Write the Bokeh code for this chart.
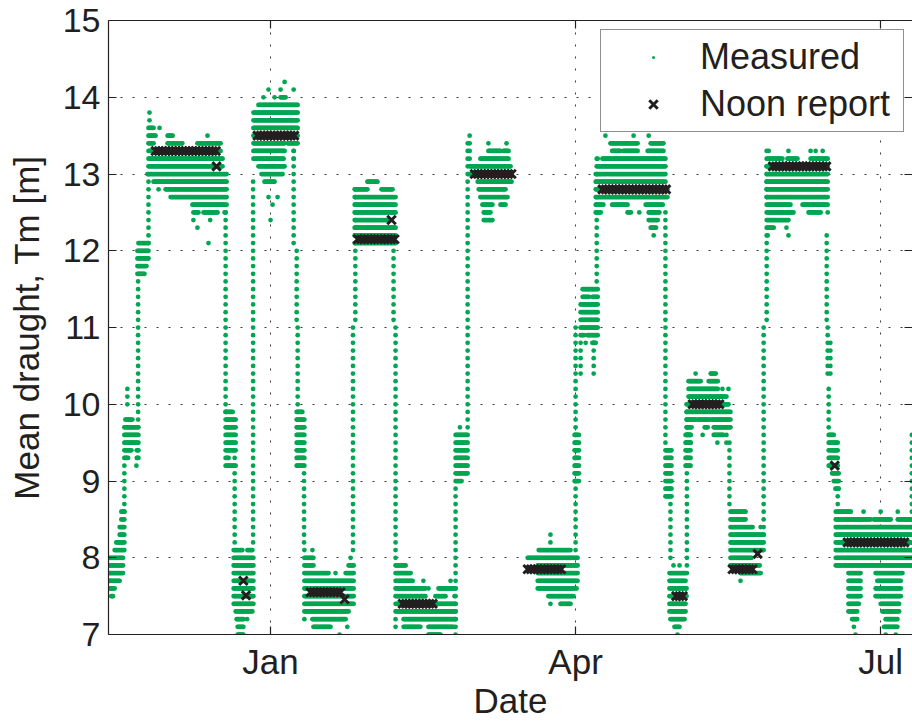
import numpy as np
from bokeh.plotting import figure
from bokeh.models import FixedTicker, LinearAxis, Legend, LegendItem
from bokeh.embed import file_html
from bokeh.resources import INLINE

# x values: days since 1 Jan 2012 (Nov 2011 .. Jul 2012)
tick_days = [0, 91, 182]
tick_names = ["Jan", "Apr", "Jul"]
y_ticks = [7, 8, 9, 10, 11, 12, 13, 14, 15]

# ---- Measured draught: horizontal runs (level [m], first day, last day) ----
nov_rise = [
    (7.5, -47.5, -47.0), (7.6, -48.6, -46.5), (7.7, -48.6, -45.0), (7.8, -48.6, -44.0),
    (7.9, -48.3, -44.0), (8.0, -48.0, -44.0), (8.1, -46.5, -43.6), (8.2, -46.0, -43.6),
    (8.3, -45.0, -43.6), (8.4, -45.0, -43.6), (8.5, -44.5, -43.6), (8.6, -44.5, -43.6),
    (9.8, -43.3, -41.2), (9.7, -43.6, -39.4), (9.6, -43.6, -39.4), (9.5, -43.6, -39.4),
    (9.4, -43.6, -41.5), (9.4, -39.9, -39.4), (9.3, -43.6, -42.5), (9.3, -39.9, -39.4),
    (9.2, -40.0, -40.0),
    (12.1, -39.4, -36.4), (12.0, -39.7, -36.4), (11.9, -39.7, -36.4), (11.8, -39.7, -37.0),
    (11.7, -39.7, -37.6),
]
nov_loaded = [
    (13.8, -36.1, -36.1), (13.7, -36.1, -36.1), (13.6, -36.4, -34.9), (13.6, -33.1, -33.1),
    (13.5, -36.4, -34.3), (13.5, -30.7, -29.2), (13.5, -18.8, -18.8), (13.4, -36.4, -34.9),
    (13.4, -30.7, -26.3), (13.4, -21.8, -14.9), (13.3, -36.4, -14.9), (13.2, -36.4, -14.3),
    (13.1, -36.4, -14.3), (13.0, -36.7, -13.1), (12.9, -34.9, -13.1), (12.8, -33.4, -33.4),
    (12.8, -31.3, -13.1), (12.7, -29.8, -13.1), (12.6, -23.3, -13.1), (12.5, -23.0, -21.5),
    (12.5, -20.0, -15.8), (12.5, -13.7, -13.4), (12.4, -23.0, -23.0), (12.4, -18.0, -18.0),
    (12.3, -21.8, -21.8), (12.1, -18.5, -18.5),
    (9.9, -13.4, -11.3), (9.8, -13.4, -10.4), (9.7, -13.4, -10.4), (9.6, -13.4, -10.4),
    (9.5, -13.4, -10.4), (9.4, -13.4, -10.4), (9.3, -13.4, -12.5), (9.3, -10.7, -10.7),
    (9.2, -13.4, -10.4),
]
dec_ballast = [
    (8.1, -11.0, -8.4), (8.1, -6.9, -5.4), (8.0, -11.0, -5.1), (7.9, -11.0, -5.1),
    (7.8, -11.0, -5.1), (7.7, -11.0, -5.1), (7.6, -11.0, -5.1), (7.5, -11.0, -5.1),
    (7.4, -11.0, -5.1), (7.3, -10.4, -5.4), (7.2, -10.1, -8.1), (7.2, -7.0, -7.0),
    (7.1, -9.8, -8.1), (7.0, -9.8, -8.1),
]
jan_loaded = [
    (14.2, 4.2, 4.2), (14.1, -0.6, -0.6), (14.1, 3.0, 3.0), (14.1, 6.9, 6.9),
    (14.0, -2.1, -2.1), (14.0, 1.2, 1.2), (14.0, 3.0, 4.5), (13.9, -3.6, 8.1),
    (13.8, -5.1, 8.1), (13.7, -5.1, 8.1), (13.6, -5.1, 8.1), (13.5, -5.1, 8.1),
    (13.4, -5.1, 4.2), (13.4, 5.1, 8.1), (13.3, -5.1, 4.2), (13.3, 6.9, 6.9),
    (13.2, -5.1, 3.9), (13.2, 6.9, 6.9), (13.1, -3.6, 4.2), (13.0, -2.7, 3.6),
    (12.9, -1.8, 1.2), (12.7, -0.6, -0.6), (12.7, 2.1, 2.1), (12.6, 0.6, 0.6), (12.4, 0.0, 0.0),
    (9.9, 7.8, 9.5), (9.8, 7.8, 10.1), (9.7, 7.8, 10.1), (9.6, 7.8, 10.1), (9.5, 7.8, 10.1),
    (9.4, 7.8, 10.1), (9.3, 7.8, 10.1), (9.2, 7.8, 10.1),
]
jan_ballast = [
    (8.1, 10.1, 10.1), (8.1, 12.5, 12.5), (8.0, 10.1, 12.8), (8.0, 23.9, 23.9),
    (7.9, 10.1, 12.8), (7.9, 23.3, 24.8), (7.8, 10.1, 17.3), (7.8, 19.4, 19.4),
    (7.8, 22.4, 24.8), (7.7, 10.1, 24.8), (7.6, 10.1, 24.8), (7.5, 10.1, 24.8),
    (7.4, 10.1, 24.8), (7.3, 10.1, 23.3), (7.2, 12.5, 22.4), (7.2, 10.1, 10.1),
    (7.1, 12.8, 17.9), (7.1, 22.9, 22.9), (7.0, 20.6, 20.6),
]
feb_loaded = [
    (12.9, 28.9, 31.9), (12.8, 25.1, 28.9), (12.8, 33.1, 36.4), (12.7, 25.1, 37.3),
    (12.6, 25.1, 37.3), (12.5, 25.1, 37.3), (12.4, 25.1, 34.9), (12.3, 25.1, 37.3),
    (12.2, 25.1, 37.3), (12.1, 25.1, 37.3),
]
feb_ballast = [
    (7.9, 37.3, 40.3), (7.8, 37.3, 41.8), (7.7, 37.3, 42.4), (7.7, 45.6, 45.6),
    (7.7, 53.7, 53.7), (7.6, 37.3, 46.2), (7.6, 47.1, 47.1), (7.6, 50.1, 55.2),
    (7.5, 37.3, 46.2), (7.5, 49.2, 52.2), (7.5, 54.9, 54.9), (7.4, 37.3, 55.2),
    (7.3, 37.3, 55.2), (7.2, 37.3, 37.3), (7.2, 39.7, 55.2), (7.1, 37.3, 37.3),
    (7.1, 39.7, 44.7), (7.1, 47.1, 54.6), (7.0, 47.1, 50.7),
    (9.7, 56.5, 56.5), (9.6, 55.2, 58.8), (9.5, 55.2, 58.8), (9.4, 55.2, 58.8),
    (9.3, 55.2, 58.8), (9.2, 55.2, 58.8), (9.1, 55.2, 58.8), (9.0, 55.2, 57.0),
]
mar_loaded = [
    (13.5, 59.4, 59.4), (13.4, 59.4, 59.4), (13.4, 65.0, 65.0), (13.4, 70.4, 70.4),
    (13.3, 59.4, 59.4), (13.3, 65.0, 68.6), (13.3, 69.5, 71.0), (13.2, 59.4, 59.4),
    (13.2, 62.6, 71.0), (13.1, 59.4, 71.6), (13.0, 59.1, 71.9), (12.9, 61.8, 71.9),
    (12.8, 62.1, 70.1), (12.7, 62.6, 70.7), (12.6, 63.2, 66.2), (12.6, 68.6, 70.1),
    (12.5, 63.6, 65.6), (12.4, 63.6, 66.2),
]
mar_ballast = [
    (8.3, 83.5, 83.5), (8.2, 83.5, 83.5), (8.1, 80.0, 89.5), (8.0, 76.7, 91.6),
    (7.9, 79.7, 91.6), (7.8, 79.7, 91.6), (7.7, 79.7, 91.6), (7.6, 79.7, 91.3),
    (7.5, 82.9, 90.4), (7.4, 83.5, 83.5), (7.4, 86.5, 89.5),
    (9.6, 90.7, 92.0), (9.5, 90.7, 92.0), (9.4, 90.7, 92.0), (9.3, 90.7, 92.0),
    (9.2, 90.7, 92.0), (9.1, 90.7, 92.0), (9.0, 90.7, 92.0),
    (11.5, 93.1, 97.6), (11.4, 93.1, 95.0), (11.4, 96.0, 97.6), (11.3, 92.5, 97.6),
    (11.2, 92.5, 97.6), (11.1, 92.5, 97.6), (11.0, 92.5, 97.6), (10.9, 92.5, 93.5),
    (10.9, 94.5, 97.6), (10.8, 94.0, 94.0), (10.8, 96.0, 97.0),
]
apr_loaded = [
    (13.5, 99.9, 99.9), (13.5, 108.3, 108.3), (13.5, 112.8, 112.8), (13.4, 101.4, 109.5),
    (13.4, 113.4, 117.2), (13.3, 101.9, 104.3), (13.3, 105.2, 109.5), (13.3, 112.5, 117.2),
    (13.2, 97.6, 97.6), (13.2, 99.0, 117.8), (13.1, 97.6, 117.8), (13.0, 97.0, 117.8),
    (12.9, 97.0, 117.8), (12.8, 97.0, 118.4), (12.7, 97.0, 118.4), (12.6, 97.0, 99.3),
    (12.6, 101.9, 106.5), (12.6, 111.9, 117.0), (12.5, 97.0, 98.5), (12.5, 106.5, 107.5),
    (12.5, 110.0, 110.0), (12.5, 112.8, 116.0), (12.4, 112.8, 115.5), (12.3, 113.4, 115.0),
    (12.2, 114.3, 114.3),
    (9.4, 117.8, 119.6), (9.3, 117.8, 119.6), (9.2, 117.8, 119.6), (9.1, 117.8, 119.6),
    (9.0, 117.8, 119.6), (8.9, 117.8, 119.6), (8.8, 117.8, 119.6),
]
apr_ballast = [
    (7.9, 120.2, 120.2), (7.9, 122.0, 122.0), (7.8, 119.0, 123.8), (7.7, 119.0, 123.8),
    (7.6, 119.0, 124.1), (7.5, 119.0, 124.1), (7.4, 119.0, 123.8), (7.3, 119.0, 123.8),
    (7.2, 119.3, 123.5), (7.1, 120.5, 122.0), (7.0, 121.4, 121.4),
    (9.6, 123.8, 125.3), (9.5, 123.8, 125.3), (9.4, 123.8, 125.3), (9.3, 123.8, 125.3),
    (9.2, 123.8, 125.3),
]
may_part = [
    (10.4, 126.8, 126.8), (10.4, 131.3, 132.8), (10.3, 124.7, 128.3), (10.3, 130.7, 133.4),
    (10.2, 124.7, 133.4), (10.2, 134.8, 134.8), (10.2, 136.6, 136.6), (10.1, 124.7, 136.0),
    (10.0, 124.1, 136.6), (9.9, 124.1, 137.2), (9.8, 124.1, 126.8), (9.8, 127.4, 131.0),
    (9.8, 131.6, 137.2), (9.7, 124.1, 125.6), (9.7, 129.5, 130.4), (9.7, 132.2, 137.2),
    (9.6, 124.1, 125.3), (9.6, 128.9, 128.9), (9.6, 132.2, 135.1), (9.6, 136.0, 136.0),
    (9.5, 124.1, 125.3), (9.5, 133.3, 133.3), (9.5, 136.0, 136.0),
]
may_ballast = [
    (8.6, 137.2, 141.7), (8.5, 137.2, 141.7), (8.4, 137.2, 143.8), (8.4, 146.2, 146.2),
    (8.3, 137.2, 147.1), (8.2, 137.2, 147.1), (8.1, 137.2, 147.1), (8.0, 137.2, 143.5),
    (7.9, 137.2, 145.9), (7.8, 140.2, 146.2), (7.7, 140.2, 140.2),
]
jun_loaded = [
    (13.3, 148.6, 148.6), (13.3, 154.5, 154.5), (13.3, 161.1, 161.1), (13.3, 162.6, 162.6),
    (13.3, 164.7, 164.7), (13.2, 148.3, 152.7), (13.2, 154.2, 157.2), (13.2, 161.1, 166.2),
    (13.1, 148.0, 166.2), (13.0, 148.0, 166.2), (12.9, 148.0, 166.2), (12.8, 148.0, 166.2),
    (12.7, 148.0, 166.2), (12.6, 148.3, 155.1), (12.6, 158.7, 166.2), (12.5, 148.3, 156.0),
    (12.5, 160.5, 164.1), (12.5, 166.2, 166.2), (12.4, 148.3, 154.5), (12.3, 148.3, 150.1),
    (12.3, 153.9, 153.9), (12.2, 148.3, 148.3), (12.2, 154.5, 154.5),
    (9.6, 166.5, 168.0), (9.5, 166.5, 169.2), (9.4, 166.5, 169.2), (9.3, 166.5, 169.2),
    (9.2, 166.5, 169.2), (9.1, 167.5, 169.5), (9.0, 168.0, 169.5), (8.9, 168.5, 169.5),
]
jun_ballast = [
    (8.6, 168.6, 173.1), (8.6, 176.9, 176.9), (8.6, 182.0, 182.0), (8.6, 187.1, 187.1),
    (8.5, 168.6, 179.0), (8.5, 180.0, 185.0), (8.5, 187.1, 191.5), (8.4, 168.6, 191.5),
    (8.3, 168.6, 191.5), (8.2, 168.6, 191.5), (8.1, 168.6, 191.5), (8.0, 168.6, 191.5),
    (7.9, 168.6, 191.5), (7.8, 172.4, 176.0), (7.8, 180.5, 188.5), (7.7, 172.4, 176.0),
    (7.7, 181.0, 188.0), (7.6, 172.4, 176.0), (7.6, 180.5, 188.0), (7.5, 172.4, 176.0),
    (7.5, 180.5, 188.0), (7.4, 172.4, 175.5), (7.4, 182.0, 187.5), (7.3, 172.4, 175.0),
    (7.3, 182.5, 187.5), (7.2, 173.5, 175.0), (7.2, 183.5, 187.0), (7.1, 174.0, 174.0),
    (7.1, 183.0, 187.0), (7.0, 174.5, 174.5), (7.0, 183.5, 183.5), (7.0, 186.5, 186.5),
]

# ---- Measured draught during loading / discharge: (day, lowest level, highest level) ----
transit_columns = [
    (-43.6, 8.6, 9.2), (-42.7, 10.0, 10.2), (-39.5, 9.8, 11.6), (-36.4, 12.1, 13.0),
    (-13.4, 9.9, 12.5), (-10.7, 8.2, 9.1), (-5.2, 8.2, 12.9),
    (6.9, 12.1, 13.3), (7.8, 11.1, 12.0), (8.1, 10.0, 11.0), (10.0, 8.2, 9.1),
    (24.6, 8.1, 11.0), (25.3, 11.1, 12.8),
    (36.7, 11.1, 12.0), (37.3, 8.0, 11.0),
    (55.2, 7.0, 8.9), (58.8, 9.7, 13.4),
    (91.0, 8.1, 11.0), (92.5, 10.4, 10.8), (96.4, 10.4, 10.8), (97.3, 11.6, 13.2),
    (117.8, 9.5, 12.5), (119.3, 8.0, 8.7),
    (124.2, 7.8, 9.9), (136.9, 8.7, 9.5),
    (147.1, 8.3, 11.0), (148.0, 11.1, 13.3),
    (165.9, 11.1, 12.2), (166.2, 10.4, 11.0), (167.0, 10.4, 10.8), (166.5, 9.7, 10.2),
    (169.2, 8.7, 8.9), (191.3, 8.6, 9.6),
]

# ---- Noon reports: daily runs (first day, last day, draught) and single reports ----
noon_runs = [
    (-34.3, -15.8, 13.3), (-3.9, 6.9, 13.5), (11.9, 21.0, 7.55), (26.0, 37.0, 12.15),
    (39.4, 48.3, 7.40), (60.9, 71.9, 13.0), (76.7, 86.5, 7.85), (99.0, 118.4, 12.8),
    (121.0, 123.0, 7.50), (125.9, 133.4, 10.0), (137.8, 144.1, 7.85), (149.8, 165.9, 13.1),
    (172.1, 189.4, 8.2),
]
noon_single_day = [-16.1, -8.1, -7.3, 22.1, 36.1, 145.3, 168.3]
noon_single_draught = [13.1, 7.70, 7.51, 7.46, 12.40, 8.05, 9.2]

# ---------------- build point sets ----------------
ROW_STEP = 0.3
mx, my = [], []
for group in [nov_rise, nov_loaded, dec_ballast, jan_loaded, jan_ballast, feb_loaded,
              feb_ballast, mar_loaded, mar_ballast, apr_loaded, apr_ballast, may_part,
              may_ballast, jun_loaded, jun_ballast]:
    for lvl, a, b in group:
        n = max(1, int(round((b - a) / ROW_STEP)) + 1)
        mx.extend(np.linspace(a, b, n).tolist())
        my.extend([lvl] * n)
for day, lo, hi in transit_columns:
    n = int(round((hi - lo) / 0.1)) + 1
    for i in range(n):
        mx.append(day)
        my.append(round(lo + 0.1 * i, 2))

nx, ny = [], []
for a, b, lvl in noon_runs:
    n = int(round(b - a)) + 1
    for i in range(n):
        nx.append(a + i)
        ny.append(lvl)
nx.extend(noon_single_day)
ny.extend(noon_single_draught)

GREEN = "#00a651"
DARK = "#231f20"
FONT = "Liberation Sans"

p = figure(width=912, height=722, output_backend="svg", toolbar_location=None,
           x_range=(-48.33, 191.5), y_range=(7, 15),
           min_border_left=108, min_border_right=0, min_border_top=20, min_border_bottom=88,
           background_fill_color="white", border_fill_color="white")
p.outline_line_color = None

# "dot" markers: filled with the line colour, diameter = size / 4
r_meas = p.scatter(mx, my, marker="dot", size=19, line_color=GREEN)
r_noon = p.scatter(nx, ny, marker="x", size=12, line_color=DARK, line_width=3)

# axes
p.xaxis.ticker = FixedTicker(ticks=tick_days)
p.xaxis.major_label_overrides = {d: n for d, n in zip(tick_days, tick_names)}
p.yaxis.ticker = FixedTicker(ticks=y_ticks)
for ax in [p.xaxis[0], p.yaxis[0]]:
    ax.major_tick_in = 8
    ax.major_tick_out = 0
    ax.minor_tick_line_color = None
    ax.axis_line_color = DARK
    ax.axis_line_width = 1.2
    ax.major_tick_line_color = DARK
    ax.major_tick_line_width = 1.2
    ax.major_label_text_font = FONT
    ax.major_label_text_color = DARK
    ax.axis_label_text_font = FONT
    ax.axis_label_text_font_style = "normal"
    ax.axis_label_text_color = DARK
    ax.axis_label_text_font_size = "35px"
p.xaxis.major_label_text_font_size = "35px"
p.yaxis.major_label_text_font_size = "34px"
p.xaxis.major_label_standoff = 7
p.yaxis.major_label_standoff = 8
p.xaxis.axis_label = "Date"
p.yaxis.axis_label = "Mean draught, Tm [m]"
p.xaxis.axis_label_standoff = -3
p.yaxis.axis_label_standoff = 14

# box-style ticks on the top and right edges (no labels there)
top_ax = LinearAxis(ticker=FixedTicker(ticks=tick_days))
top_ax.major_label_overrides = {d: "" for d in tick_days}
right_ax = LinearAxis(ticker=FixedTicker(ticks=y_ticks))
right_ax.major_label_overrides = {v: "" for v in y_ticks}
for ax in [top_ax, right_ax]:
    ax.major_tick_in = 8
    ax.major_tick_out = 0
    ax.minor_tick_line_color = None
    ax.major_tick_line_color = DARK
    ax.major_tick_line_width = 1.2
    ax.major_label_text_font_size = "8px"
    ax.major_label_standoff = 0
top_ax.axis_line_color = DARK
top_ax.axis_line_width = 1.2
right_ax.axis_line_color = None
p.add_layout(top_ax, "above")
p.add_layout(right_ax, "right")

for g in [p.xgrid[0], p.ygrid[0]]:
    g.grid_line_color = "#3a3a3a"
    g.grid_line_dash = "2 10"
    g.grid_line_width = 1

legend = Legend(items=[LegendItem(label="Measured", renderers=[r_meas]),
                       LegendItem(label="Noon report", renderers=[r_noon])],
                location=(492, 502))
legend.label_text_font = FONT
legend.label_text_font_size = "36px"
legend.label_text_color = DARK
legend.glyph_width = 92
legend.glyph_height = 30
legend.label_height = 36
legend.label_width = 197
legend.label_standoff = 1
legend.padding = 6
legend.spacing = 5
legend.margin = 0
legend.border_line_color = DARK
legend.border_line_width = 1.2
legend.background_fill_color = "white"
legend.background_fill_alpha = 1.0
p.add_layout(legend)

open("out.html", "w").write(file_html(p, INLINE))
